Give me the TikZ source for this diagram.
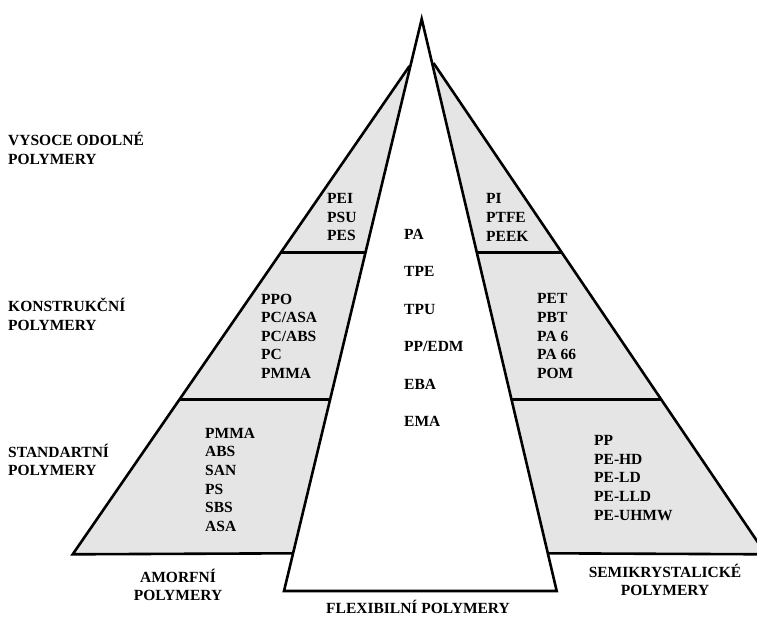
\documentclass[tikz,border=0pt]{standalone}
\usepackage{fontspec}
\setmainfont{Liberation Serif}
\usetikzlibrary{calc}
\definecolor{grayfill}{RGB}{229,229,229}
\begin{document}
\begin{tikzpicture}[x=1pt,y=-1pt,
  outline/.style={draw=black,line width=2.6pt,line join=miter},
  divider/.style={draw=black,line width=3.2pt},
  txt/.style={font=\bfseries\fontsize{15.5}{18.6}\selectfont, inner sep=0pt, align=left, anchor=west},
  mid/.style={font=\bfseries\fontsize{15.5}{37.4}\selectfont, inner sep=0pt, align=left, anchor=west},
  caption/.style={font=\bfseries\fontsize{15.5}{18.3}\selectfont, inner sep=0pt, align=center, anchor=center}]
\useasboundingbox (0,0) rectangle (757,617);
% key points
\coordinate (apex) at (421.7,19);
\coordinate (FL) at (284,591);
\coordinate (FR) at (556.7,591);
\coordinate (LT) at (409.5,66);
\coordinate (LB) at (72.7,554.3);
\coordinate (RT) at (433.5,63);
\coordinate (RB) at (766,554.3);
\coordinate (LBin) at ($(apex)!0.9341!(FL)$);
\coordinate (RBin) at ($(apex)!0.9341!(FR)$);
% divider end points (horizontal)
\coordinate (L1o) at ($(LT)!0.3823!(LB)$);
\coordinate (L1i) at ($(apex)!0.4086!(FL)$);
\coordinate (L2o) at ($(LT)!0.6834!(LB)$);
\coordinate (L2i) at ($(apex)!0.6656!(FL)$);
\coordinate (R1o) at ($(RT)!0.3861!(RB)$);
\coordinate (R1i) at ($(apex)!0.4086!(FR)$);
\coordinate (R2o) at ($(RT)!0.6853!(RB)$);
\coordinate (R2i) at ($(apex)!0.6656!(FR)$);
% gray regions
\fill[grayfill] (LT) -- (LB) -- (LBin) -- cycle;
\fill[grayfill] (RT) -- (RB) -- (RBin) -- cycle;
\draw[outline] (LBin) -- (LB) -- (LT);
\draw[outline] (RBin) -- (RB) -- (RT);
% flexible (white) triangle
\filldraw[fill=white, outline] (apex) -- (FL) -- (FR) -- cycle;
% dividers
\draw[divider] (L1o) -- (L1o -| L1i);
\draw[divider] (L2o) -- (L2o -| L2i);
\draw[divider] (R1o -| R1i) -- (R1o);
\draw[divider] (R2o -| R2i) -- (R2o);
% left level labels
\node[txt] (lvl1) at (8,148.6) {VYSOCE ODOLNÉ\\POLYMERY};
\node[txt] (lvl2) at (8,314.3) {KONSTRUKČNÍ\\POLYMERY};
\node[txt] (lvl3) at (8,460) {STANDARTNÍ\\POLYMERY};
% lists
\node[txt] (amtop) at (327,217.4) {PEI\\PSU\\PES};
\node[txt] (smtop) at (486,217.4) {PI\\PTFE\\PEEK};
\node[mid] (flex) at (404,327.8) {PA\\TPE\\TPU\\PP/EDM\\EBA\\EMA};
\node[txt] (ammid) at (261,336.2) {PPO\\PC/ASA\\PC/ABS\\PC\\PMMA};
\node[txt] (smmid) at (537,336.2) {PET\\PBT\\PA 6\\PA 66\\POM};
\node[txt] (ambot) at (205,479.8) {PMMA\\ABS\\SAN\\PS\\SBS\\ASA};
\node[txt] (smbot) at (594,478) {PP\\PE-HD\\PE-LD\\PE-LLD\\PE-UHMW};
% bottom captions
\node[caption] (amorf) at (178,585) {AMORFNÍ\\POLYMERY};
\node[caption] (semi) at (665,580) {SEMIKRYSTALICKÉ\\POLYMERY};
\node[caption] (flexcap) at (418,607) {FLEXIBILNÍ POLYMERY};
\end{tikzpicture}
\end{document}
